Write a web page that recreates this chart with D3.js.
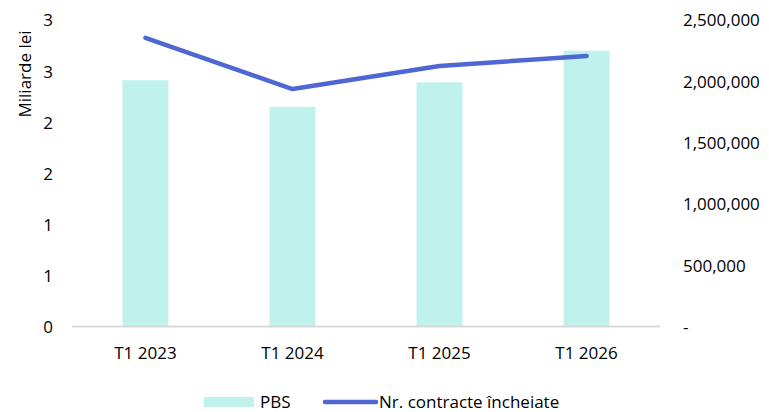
<!DOCTYPE html>
<html>
<head>
<meta charset="utf-8">
<script src="https://cdn.jsdelivr.net/npm/d3@7"></script>
<style>
  body { margin: 0; background: #fff; }
  text { font-family: "Open Sans", "Liberation Sans", Arial, sans-serif; fill: #000; }
</style>
</head>
<body>
<div class="main"></div>
<script>
// data
const categories = ["T1 2023", "T1 2024", "T1 2025", "T1 2026"];
const pbs = [2.41, 2.15, 2.39, 2.70];                   // Miliarde lei
const contracte = [2355000, 1937000, 2125000, 2206000]; // Nr. contracte
const leftTicks = [0, 0.5, 1, 1.5, 2, 2.5, 3];
const rightTicks = [0, 500000, 1000000, 1500000, 2000000, 2500000];

let width = 769, height = 412;
let font = "'Open Sans', 'Liberation Sans', Arial, sans-serif";
let fs = "17px";

let svg = d3.select("div.main").append("svg")
  .attr("width", width)
  .attr("height", height);

let x = d3.scaleBand()
  .domain(categories)
  .range([72, 660])
  .paddingInner(0.687)
  .paddingOuter(0.343);

let y = d3.scaleLinear()
  .domain([0, 3])
  .range([326.5, 20]);

let y2 = d3.scaleLinear()
  .domain([0, 2500000])
  .range([326.5, 20]);

// bars
svg.append("g").selectAll("rect")
  .data(pbs)
  .enter().append("rect")
    .attr("x", (d, i) => x(categories[i]))
    .attr("y", d => y(d))
    .attr("width", x.bandwidth())
    .attr("height", d => y(0) - y(d))
    .attr("fill", "#bff2ec");

// baseline
svg.append("line")
  .attr("x1", 72).attr("x2", 660)
  .attr("y1", y(0)).attr("y2", y(0))
  .attr("stroke", "#d9d9d9")
  .attr("stroke-width", 2);

// left axis - no decimals, like the original (0.5 shows as 1 etc.)
svg.append("g")
  .attr("transform", "translate(53,0)")
  .call(d3.axisLeft(y)
    .tickValues(leftTicks)
    .tickSize(0)
    .tickPadding(0)
    .tickFormat(d => String(Math.round(d))))
  .call(g => g.select(".domain").remove())
  .selectAll("text")
    .style("font-size", fs)
    .style("font-family", font)
    .attr("dy", "0.35em");

// right axis
svg.append("g")
  .attr("transform", "translate(683,0)")
  .call(d3.axisRight(y2)
    .tickValues(rightTicks)
    .tickSize(0)
    .tickPadding(0)
    .tickFormat(d => d === 0 ? "-" : d3.format(",")(d)))
  .call(g => g.select(".domain").remove())
  .selectAll("text")
    .style("font-size", fs)
    .style("font-family", font)
    .attr("dy", "0.35em");

// x axis labels
svg.append("g")
  .attr("transform", "translate(0,353)")
  .call(d3.axisBottom(x).tickSize(0).tickPadding(0))
  .call(g => g.select(".domain").remove())
  .selectAll("text")
    .style("font-size", fs)
    .style("font-family", font)
    .attr("dy", "0.35em")
    .attr("y", 0);

// line
let line = d3.line()
  .x((d, i) => x(categories[i]) + x.bandwidth() / 2)
  .y(d => y2(d));

svg.append("path")
  .datum(contracte)
  .attr("d", line)
  .attr("fill", "none")
  .attr("stroke", "#4f67d3")
  .attr("stroke-width", 4.5)
  .attr("stroke-linecap", "round")
  .attr("stroke-linejoin", "round");

// y title
svg.append("text")
  .attr("transform", "translate(25,74) rotate(-90)")
  .attr("text-anchor", "middle")
  .attr("dy", "0.35em")
  .style("font-size", fs)
  .text("Miliarde lei");

// legend
let legend = svg.append("g");
legend.append("rect")
  .attr("x", 204).attr("y", 397)
  .attr("width", 50).attr("height", 10)
  .attr("fill", "#bff2ec");
legend.append("text")
  .attr("x", 260).attr("y", 402)
  .attr("dy", "0.35em")
  .style("font-size", fs)
  .text("PBS");
legend.append("line")
  .attr("x1", 325).attr("x2", 376)
  .attr("y1", 402).attr("y2", 402)
  .attr("stroke", "#4f67d3")
  .attr("stroke-width", 4.5)
  .attr("stroke-linecap", "round");
legend.append("text")
  .attr("x", 379).attr("y", 402)
  .attr("dy", "0.35em")
  .style("font-size", fs)
  .text("Nr. contracte încheiate");
</script>
</body>
</html>
